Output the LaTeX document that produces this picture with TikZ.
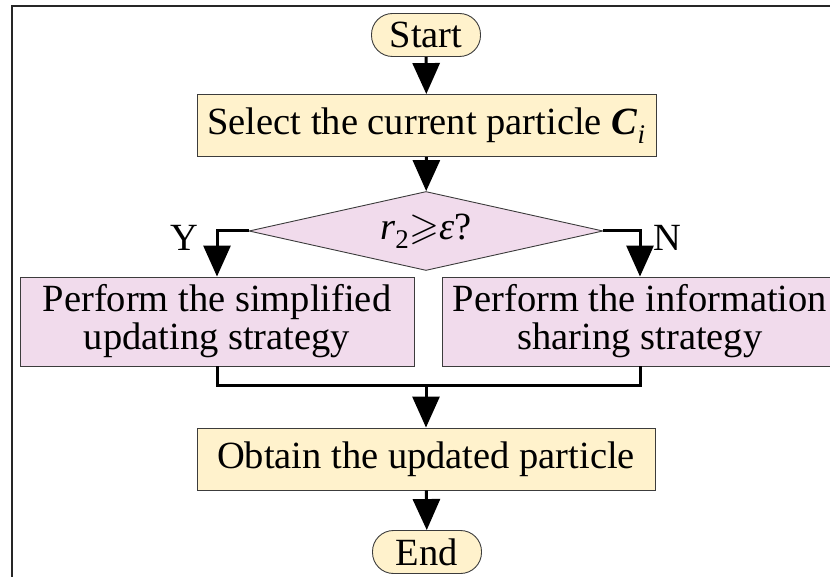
\documentclass[tikz,border=0pt]{standalone}
\usepackage{fontspec}
\setmainfont{Liberation Serif}
\usepackage{amssymb}
\usetikzlibrary{arrows.meta,shapes.geometric}
\definecolor{termfill}{RGB}{255,242,204}
\definecolor{decfill}{RGB}{241,219,236}
\definecolor{edgegrey}{RGB}{60,60,60}
\begin{document}
\begin{tikzpicture}[x=1pt,y=-1pt,
  txt/.style={font=\fontsize{38.5}{38}\selectfont},
  term/.style={txt, draw=edgegrey, line width=0.9pt, fill=termfill, rounded corners=21pt,
    inner sep=0pt, minimum width=109pt, minimum height=43pt},
  procy/.style={txt, draw=edgegrey, line width=0.9pt, fill=termfill, inner sep=0pt,
    minimum height=62pt},
  procp/.style={txt, draw=edgegrey, line width=0.9pt, fill=decfill, inner sep=0pt,
    minimum height=89pt, align=center},
  decide/.style={txt, diamond, draw=edgegrey, line width=0.9pt, fill=decfill, inner sep=0pt,
    aspect=4.48, minimum width=354pt, minimum height=79pt},
  flow/.style={line width=3pt, -{Triangle[length=31pt,width=27pt]}},
  link/.style={line width=3pt, line join=miter},
  frame/.style={line width=1.5pt, black!85}]
\useasboundingbox (0,0) rectangle (830,577);

% partial frame
\draw[frame] (12,577) -- (12,6) -- (830,6);

% nodes
\node[term]  (start)  at (426,35)    {Start};
\node[procy, minimum width=459pt] (select) at (426.5,125.5)
  {Select the current particle \textbf{\textit{C}}\textsubscript{\textit{i}}};
\node[decide] (dec) at (426,231)
  {\textit{r}\textsubscript{2}$\geqslant$\textit{ε}?};
\node[procp, minimum width=394pt] (left)  at (217,321.5)
  {Perform the simplified\\updating strategy};
\node[procp, minimum width=396pt] (right) at (640,321.5)
  {Perform the information\\sharing strategy};
\node[procy, minimum width=458pt] (obtain) at (426,459)
  {Obtain the updated particle};
\node[term]  (end)    at (427,552)   {End};

\node[txt] (ylab) at (184,238) {Y};
\node[txt] (nlab) at (667,238) {N};

\coordinate (mg) at (426,385);

% connectors
\draw[flow] (start) -- (select);
\draw[flow] (select) -- (dec);
\draw[flow] (dec.west) -| (left.north);
\draw[flow] (dec.east) -| (right.north);
\draw[link] (left.south) |- (mg) -| (right.south);
\draw[flow] (mg) -- (obtain.north);
\draw[flow] (obtain) -- (end);
\end{tikzpicture}
\end{document}
